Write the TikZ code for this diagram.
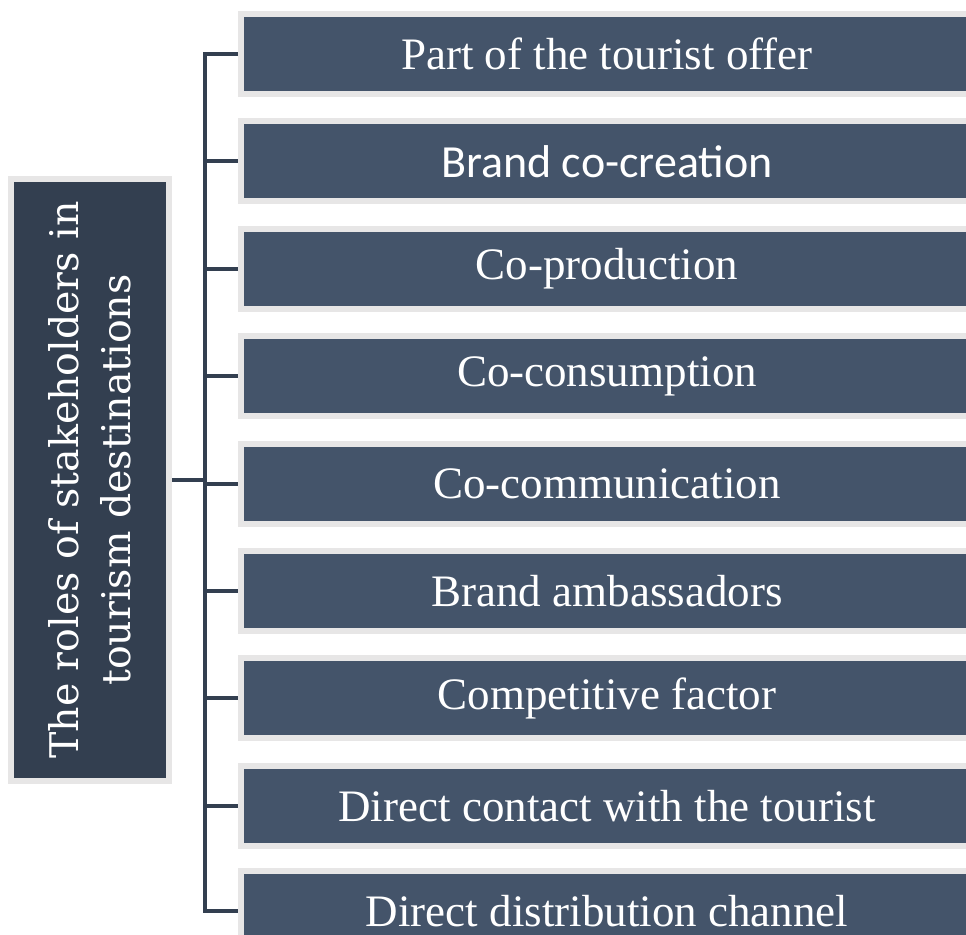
\documentclass[tikz,border=0pt]{standalone}
\usepackage{fontspec}
\setmainfont{Liberation Serif}
\newfontfamily\carlitofont{Carlito}
\newfontfamily\slabfont{DejaVu Serif}
\definecolor{boxfill}{HTML}{44546A}
\definecolor{leftfill}{HTML}{333F50}
\definecolor{boxedge}{HTML}{E7E6E6}
\definecolor{connc}{HTML}{333F50}
\tikzset{
  rolebox/.style={draw=boxedge, fill=boxfill, line width=6pt, minimum width=732pt, minimum height=80pt, inner sep=0pt, text=white, font=\fontsize{45}{52}\selectfont, anchor=center},
  mainbox/.style={draw=boxedge, fill=leftfill, line width=6pt, minimum width=602pt, minimum height=158pt, inner sep=0pt, text=white, align=center, rotate=90},
  conn/.style={draw=connc, line width=4pt}
}
\begin{document}
\begin{tikzpicture}[x=1pt,y=-1pt]
\useasboundingbox (0,0) rectangle (966,934);
\clip (0,0) rectangle (966,934);
\node[mainbox, font={\slabfont\fontsize{39.5}{52}\selectfont}] (m) at (90,480) {The roles of stakeholders in\\tourism destinations};
\node[rolebox] (b1) at (607,54) {Part of the tourist offer};
\node[rolebox] (b2) at (607,161.4) {\carlitofont\fontsize{46}{52}\selectfont Brand co-creation};
\node[rolebox] (b3) at (607,268.8) {Co-production};
\node[rolebox] (b4) at (607,376.2) {Co-consumption};
\node[rolebox] (b5) at (607,483.6) {Co-communication};
\node[rolebox] (b6) at (607,591) {Brand ambassadors};
\node[rolebox] (b7) at (607,698.4) {Competitive factor};
\node[rolebox] (b8) at (607,805.8) {Direct contact with the tourist};
\node[rolebox] (b9) at (607,911) {Direct distribution channel};
\coordinate (bx) at (205,0);
\draw[conn] (b1.west) -- (b1.west -| bx) -- (b9.west -| bx) -- (b9.west);
\foreach \i in {2,...,8} {\draw[conn] (b\i.west -| bx) -- (b\i.west);}
\draw[conn] (m.south) -- (m.south -| bx);
\end{tikzpicture}
\end{document}
